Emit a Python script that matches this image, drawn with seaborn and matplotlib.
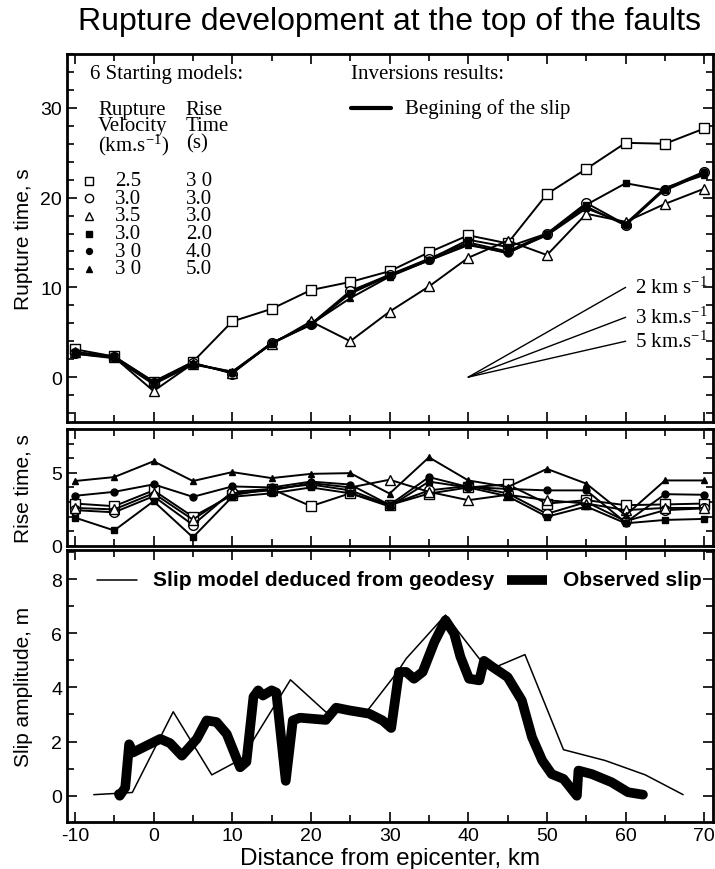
import numpy as np
import pandas as pd
import matplotlib
matplotlib.use("Agg")
import matplotlib.pyplot as plt
from matplotlib.ticker import MultipleLocator
import seaborn as sns

# ---------------- data ----------------
distance_km = [-10, -5, 0, 5, 10, 15, 20, 25, 30, 35, 40, 45, 50, 55, 60, 65, 70]

model_names = ["sq_open", "ci_open", "tr_open", "sq_fill", "ci_fill", "tr_fill"]
model_velocity = ["2.5", "3.0", "3.5", "3.0", "3 0", "3 0"]
model_risetime = ["3 0", "3.0", "3.0", "2.0", "4.0", "5.0"]

# rupture time (s) at the top of the fault, per starting model
rupture_sq_open = [3.1, 2.3, -0.5, 1.7, 6.2, 7.6, 9.7, 10.6, 11.8, 13.9, 15.8, 14.9, 20.4, 23.2, 26.1, 26.0, 27.7]
rupture_ci_open = [2.7, 2.2, -0.6, 1.6, 0.4, 3.8, 5.9, 9.6, 11.4, 13.2, 15.0, 14.0, 16.0, 19.4, 17.0, 20.9, 22.8]
rupture_tr_open = [2.8, 2.2, -1.55, 1.5, 0.5, 3.7, 6.2, 4.0, 7.3, 10.1, 13.3, 15.2, 13.6, 18.2, 17.3, 19.3, 21.0]
rupture_sq_fill = [2.8, 2.3, -0.5, 1.5, 0.6, 3.8, 5.9, 9.4, 11.4, 13.1, 15.3, 14.5, 16.0, 19.2, 21.6, 20.8, 22.7]
rupture_ci_fill = [2.6, 2.2, -0.7, 1.5, 0.5, 3.8, 5.8, 9.3, 11.3, 13.0, 14.8, 13.8, 15.9, 19.0, 16.9, 21.0, 22.9]
rupture_tr_fill = [2.6, 2.1, -0.8, 1.4, 0.6, 3.7, 5.9, 8.8, 11.2, 13.0, 14.7, 13.9, 15.8, 18.8, 17.1, 21.1, 22.5]

# rise time (s), per starting model
rise_sq_open = [2.9, 2.72, 3.8, 2.0, 3.47, 3.9, 2.72, 3.6, 2.8, 3.58, 4.0, 4.21, 2.9, 3.13, 2.79, 2.84, 2.9]
rise_ci_open = [2.45, 2.3, 3.4, 1.44, 3.7, 3.9, 4.2, 3.8, 2.8, 3.8, 4.1, 3.6, 2.2, 3.0, 1.7, 2.45, 2.57]
rise_tr_open = [2.6, 2.5, 3.6, 1.8, 3.6, 3.8, 4.3, 4.0, 4.53, 3.7, 3.13, 3.5, 3.13, 2.9, 2.45, 2.6, 2.6]
rise_sq_fill = [1.94, 1.06, 3.06, 0.59, 3.36, 3.6, 4.0, 3.6, 2.7, 4.4, 4.0, 3.4, 2.0, 2.7, 1.55, 1.78, 1.85]
rise_ci_fill = [3.43, 3.70, 4.21, 3.36, 4.07, 4.0, 4.4, 4.2, 2.8, 4.71, 4.03, 3.9, 3.8, 3.8, 1.6, 3.54, 3.5]
rise_tr_fill = [4.44, 4.71, 5.79, 4.44, 5.05, 4.64, 4.93, 4.98, 3.58, 6.06, 4.48, 4.03, 5.27, 4.26, 2.1, 4.48, 4.48]

# reference rupture velocities (km/s) drawn from 40 km over 20 km
ref_velocities = [2, 3, 5]
ref_labels = ["2 km s$^{-1}$", "3 km.s$^{-1}$", "5 km.s$^{-1}$"]

# slip model deduced from geodesy
geodesy_x = [-7.6, -2.7, 2.5, 7.4, 11.2, 17.4, 21.9, 27.2, 31.0, 32.1, 37.1, 41.4, 43.3, 47.2, 52.1, 57.4, 62.5, 67.3]
geodesy_slip = [0.04, 0.12, 3.1, 0.77, 1.36, 4.28, 3.09, 3.15, 4.57, 5.06, 6.67, 5.06, 4.73, 5.21, 1.70, 1.30, 0.77, 0.04]

# observed surface slip
observed_x = [-4.4, -4.3, -3.6, -3.1, -2.6, 0.85, 2.1, 3.6, 5.5, 6.75, 8.0, 9.3, 11.0, 11.8, 12.7, 13.3,
              13.9, 15.0, 15.6, 16.8, 17.7, 18.6, 21.9, 23.2, 24.9, 27.4, 29.1, 30.2, 31.2, 32.1, 33.1, 34.2,
              35.7, 37.1, 38.2, 39.0, 40.1, 41.4, 42.0, 43.1, 45.0, 46.8, 48.1, 49.4, 50.6, 52.1, 53.8, 54.0,
              55.7, 58.2, 60.3, 62.2]
observed_slip = [0.06, 0.0, 0.3, 1.9, 1.6, 2.1, 1.94, 1.48, 2.1, 2.78, 2.72, 2.28, 1.05, 1.25, 3.65, 3.89,
                 3.7, 3.89, 3.81, 0.55, 2.78, 2.88, 2.8, 3.25, 3.15, 3.03, 2.78, 2.5, 4.57, 4.57, 4.32, 4.57,
                 5.68, 6.48, 5.99, 5.13, 4.32, 4.26, 4.98, 4.75, 4.38, 3.52, 2.16, 1.30, 0.80, 0.62, 0.0, 0.93,
                 0.80, 0.50, 0.13, 0.04]

# ---------------- style ----------------
sns.set_style("ticks")
plt.rcParams["font.family"] = ["Liberation Sans", "DejaVu Sans"]
plt.rcParams["mathtext.fontset"] = "custom"
plt.rcParams["mathtext.rm"] = "Liberation Serif"
plt.rcParams["mathtext.it"] = "Liberation Serif:italic"
plt.rcParams["axes.linewidth"] = 2.0
plt.rcParams["axes.edgecolor"] = "black"
plt.rcParams["text.color"] = "black"
plt.rcParams["axes.labelcolor"] = "black"
plt.rcParams["xtick.color"] = "black"
plt.rcParams["ytick.color"] = "black"
SERIF = ["Liberation Serif", "DejaVu Serif"]
SERIF_SIZE = 15

marker_style = {
    "sq_open": dict(marker="s", mfc="white", ms=7),
    "ci_open": dict(marker="o", mfc="white", ms=7),
    "tr_open": dict(marker="^", mfc="white", ms=7),
    "sq_fill": dict(marker="s", mfc="black", ms=4.5),
    "ci_fill": dict(marker="o", mfc="black", ms=5),
    "tr_fill": dict(marker="^", mfc="black", ms=4.5),
}

rupture = dict(zip(model_names, [rupture_sq_open, rupture_ci_open, rupture_tr_open,
                                  rupture_sq_fill, rupture_ci_fill, rupture_tr_fill]))
rise = dict(zip(model_names, [rise_sq_open, rise_ci_open, rise_tr_open,
                               rise_sq_fill, rise_ci_fill, rise_tr_fill]))

rows = []
for name in model_names:
    for d, rt, rs in zip(distance_km, rupture[name], rise[name]):
        rows.append({"model": name, "distance": d, "rupture": rt, "rise": rs})
df = pd.DataFrame(rows)

fig = plt.figure(figsize=(7.15, 8.7), dpi=100)
L, W = 0.0937, 0.9035
ax1 = fig.add_axes([L, 0.5138, W, 0.423])
ax2 = fig.add_axes([L, 0.3713, W, 0.1345])
ax3 = fig.add_axes([L, 0.054, W, 0.3126])

XLIM = (-11.0, 71.1)


def style_axis(ax):
    ax.set_xlim(*XLIM)
    ax.xaxis.set_major_locator(MultipleLocator(10))
    ax.xaxis.set_minor_locator(MultipleLocator(5))
    ax.tick_params(which="both", direction="in", top=True, right=True, width=1.2, labelsize=14)
    ax.tick_params(which="major", length=7)
    ax.tick_params(which="minor", length=5)
    ax.set_xlabel("")


# ---------- rupture time panel ----------
for name in model_names:
    sub = df[df.model == name]
    sns.lineplot(data=sub, x="distance", y="rupture", ax=ax1, color="black", lw=1.4,
                 mec="black", mew=1.0, estimator=None, sort=False, **marker_style[name])
for v, lab in zip(ref_velocities, ref_labels):
    ax1.plot([40, 60], [0, 20 / v], color="black", lw=1.0)
    ax1.text(61.2, 20 / v, lab, fontsize=SERIF_SIZE, family=SERIF, va="center", ha="left")

ax1.set_ylim(-5, 36)
ax1.yaxis.set_major_locator(MultipleLocator(10))
ax1.yaxis.set_minor_locator(MultipleLocator(2))
style_axis(ax1)
ax1.set_xticklabels([])
ax1.set_ylabel("Rupture time, s", fontsize=15)

t = ax1.transAxes
ax1.text(0.036, 0.946, "6 Starting models:", transform=t, fontsize=SERIF_SIZE, family=SERIF, va="center")
ax1.text(0.44, 0.946, "Inversions results:", transform=t, fontsize=SERIF_SIZE, family=SERIF, va="center")
ax1.plot([0.44, 0.502], [0.853, 0.853], transform=t, color="black", lw=3)
ax1.text(0.523, 0.853, "Begining of the slip", transform=t, fontsize=SERIF_SIZE, family=SERIF, va="center")
ax1.text(0.048, 0.875, "Rupture\nVelocity\n(km.s$^{-1}$)", transform=t, fontsize=SERIF_SIZE,
         family=SERIF, va="top", linespacing=0.82)
ax1.text(0.184, 0.875, "Rise\nTime\n(s)", transform=t, fontsize=SERIF_SIZE,
         family=SERIF, va="top", linespacing=0.82)
for yy, name, vel, rt in zip([0.656, 0.608, 0.560, 0.512, 0.464, 0.416], model_names,
                             model_velocity, model_risetime):
    st = dict(marker_style[name])
    st["ms"] = st["ms"] * 0.85
    ax1.plot([0.0345], [yy], transform=t, color="black", ls="none", mec="black", mew=1.0, **st)
    ax1.text(0.074, yy, vel, transform=t, fontsize=SERIF_SIZE, family=SERIF, va="center")
    ax1.text(0.184, yy, rt, transform=t, fontsize=SERIF_SIZE, family=SERIF, va="center")

# ---------- rise time panel ----------
for name in model_names:
    sub = df[df.model == name]
    sns.lineplot(data=sub, x="distance", y="rise", ax=ax2, color="black", lw=1.4,
                 mec="black", mew=1.0, estimator=None, sort=False, **marker_style[name])
ax2.set_ylim(0, 8)
ax2.yaxis.set_major_locator(MultipleLocator(5))
ax2.yaxis.set_minor_locator(MultipleLocator(1))
style_axis(ax2)
ax2.set_xticklabels([])
ax2.set_ylabel("Rise time, s", fontsize=15)

# ---------- slip panel ----------
sns.lineplot(x=geodesy_x, y=geodesy_slip, ax=ax3, color="black", lw=1.1,
             estimator=None, sort=False)
sns.lineplot(x=observed_x, y=observed_slip, ax=ax3, color="black", lw=7,
             estimator=None, sort=False, solid_joinstyle="round", solid_capstyle="round")
ax3.set_ylim(-0.97, 9.07)
ax3.yaxis.set_major_locator(MultipleLocator(2))
ax3.yaxis.set_minor_locator(MultipleLocator(1))
style_axis(ax3)
ax3.set_ylabel("Slip amplitude, m", fontsize=15)
ax3.set_xlabel("Distance from epicenter, km", fontsize=17.5, labelpad=2)
ax3.set_xticks(range(-10, 71, 10))
ax3.set_xticklabels(["-10", "0", "10", "20", "30", "40", "50", "60", "70"])

t3 = ax3.transAxes
ax3.plot([0.046, 0.108], [0.89, 0.89], transform=t3, color="black", lw=1.1)
ax3.text(0.133, 0.89, "Slip model deduced from geodesy", transform=t3, fontsize=15,
         fontweight="bold", va="center")
ax3.plot([0.681, 0.743], [0.89, 0.89], transform=t3, color="black", lw=7, solid_capstyle="butt")
ax3.text(0.768, 0.89, "Observed slip", transform=t3, fontsize=15, fontweight="bold", va="center")

for ax in (ax1, ax2, ax3):
    leg = ax.get_legend()
    if leg is not None:
        leg.remove()
    ax.yaxis.set_label_coords(-0.053, 0.5)

fig.suptitle("Rupture development at the top of the faults", x=0.545, y=0.975,
             fontsize=23, va="center", color="black")

fig.savefig("out.png", dpi=100)
